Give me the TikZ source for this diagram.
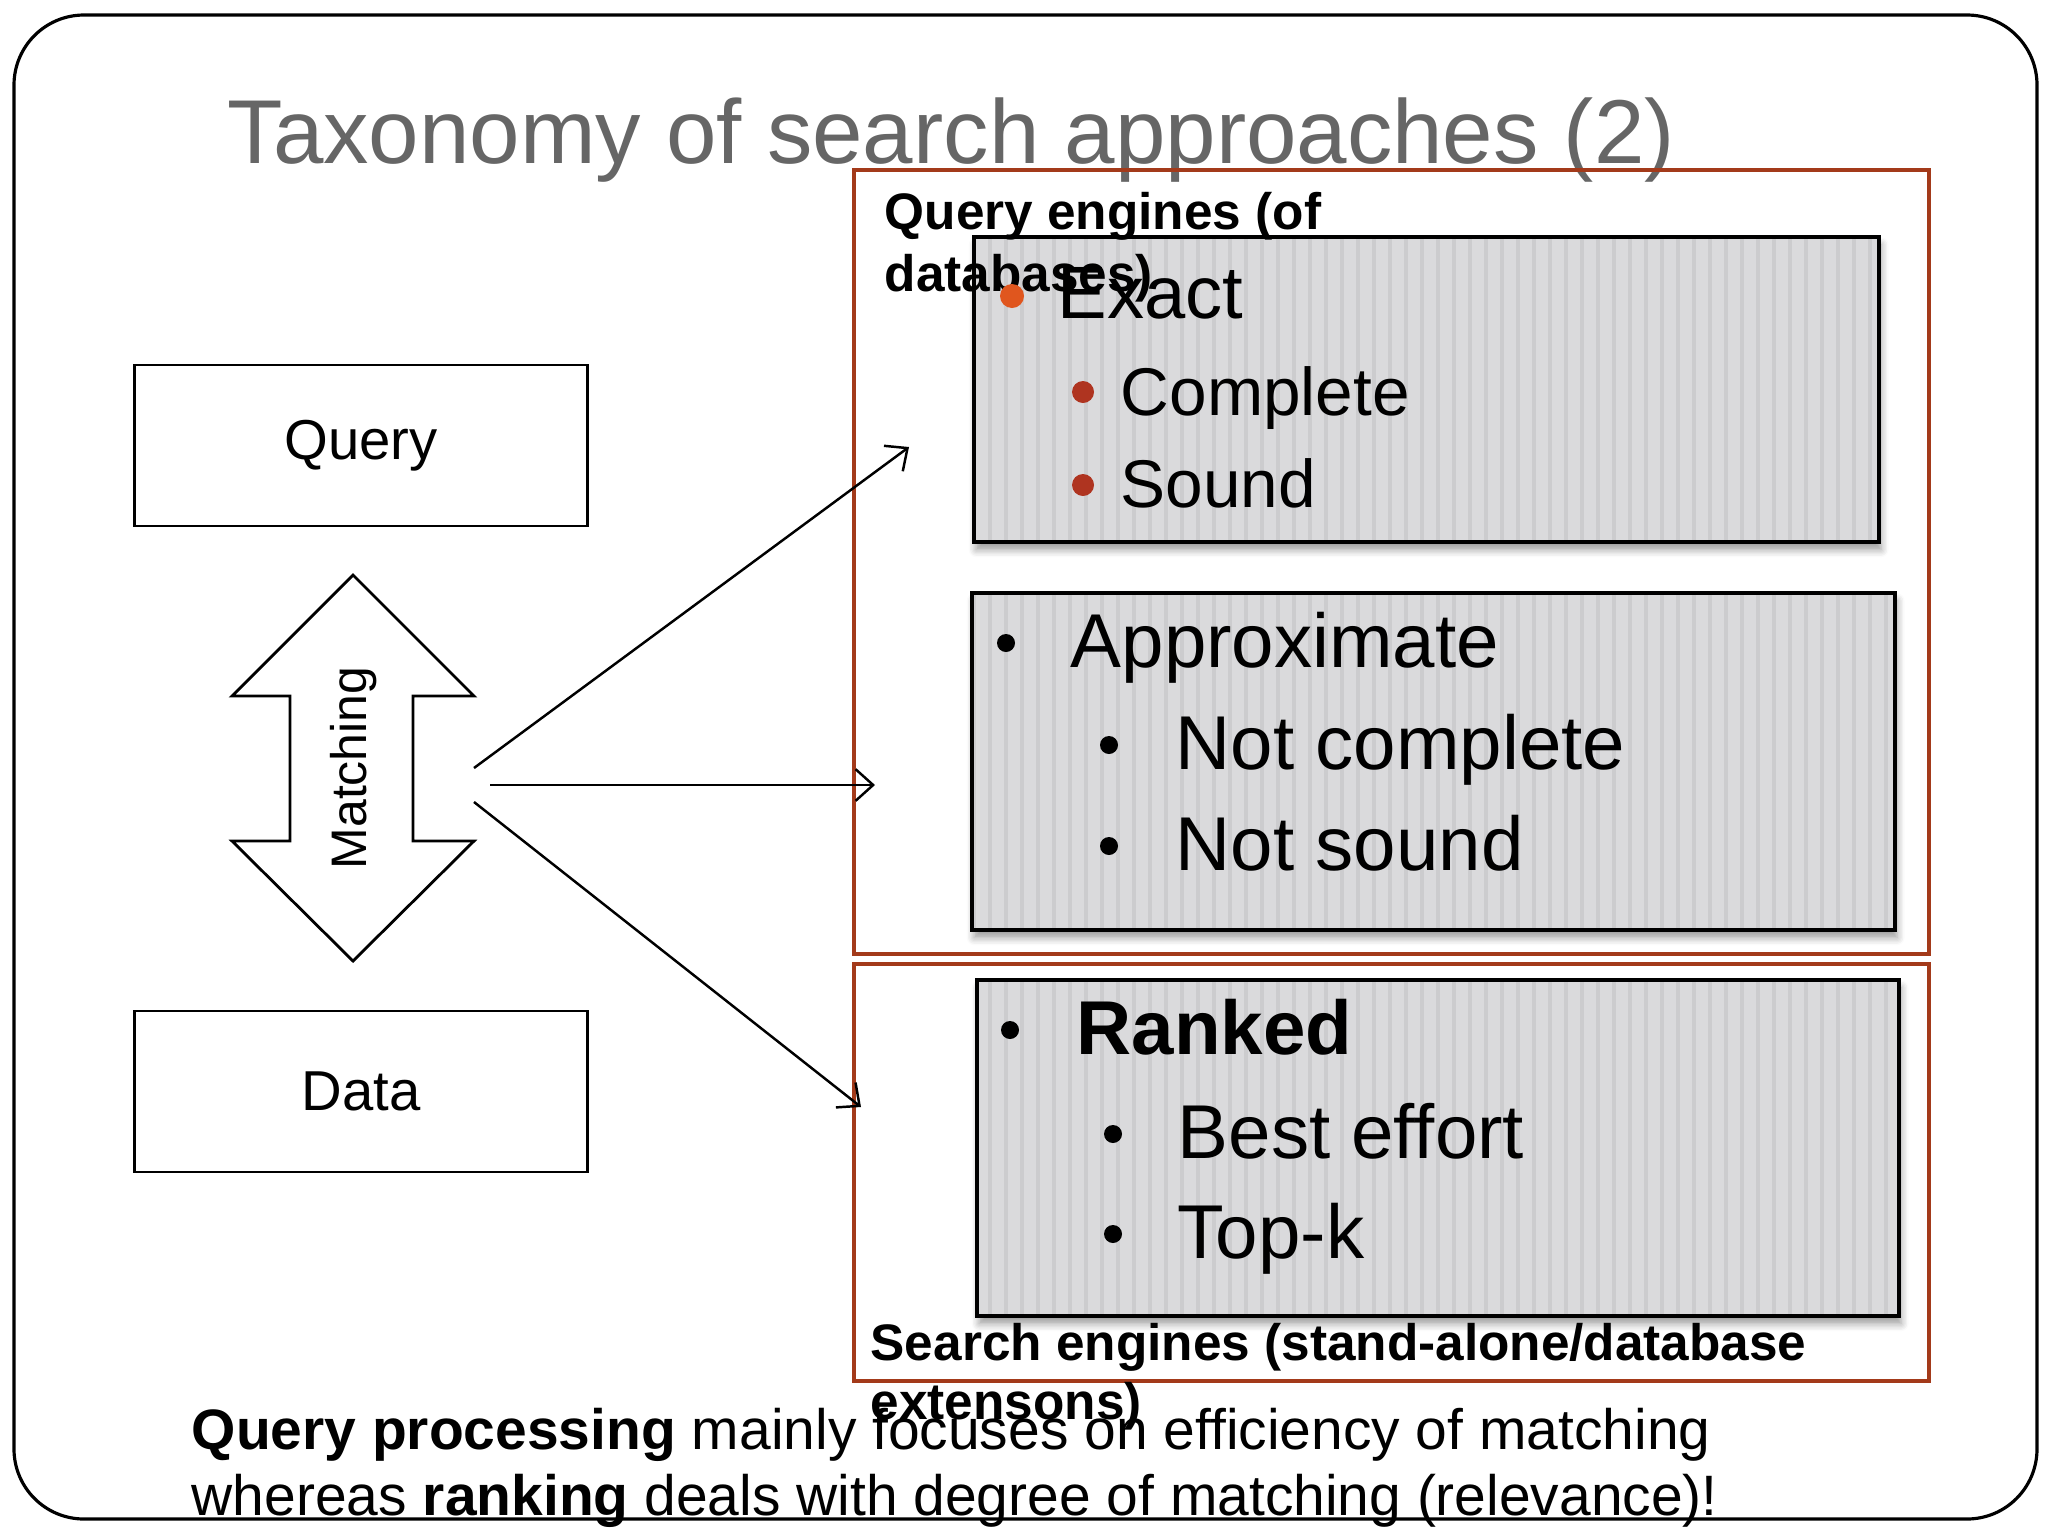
\documentclass[tikz,border=0pt]{standalone}
\usepackage{fontspec}
\setmainfont{Liberation Sans}
\usetikzlibrary{shadows.blur,arrows.meta}
\definecolor{titlegray}{HTML}{666666}
\definecolor{framered}{RGB}{163,58,26}
\definecolor{bulletorange}{RGB}{224,86,30}
\definecolor{bulletred}{RGB}{175,52,32}
\definecolor{panelgray}{RGB}{218,218,220}
\definecolor{stripegray}{RGB}{204,204,206}
\begin{document}
\begin{tikzpicture}[
          x=0.01cm, y=-0.01cm,
          link/.style={-{Straight Barb[length=5pt,width=9pt]},line width=0.7pt},
          plainbox/.style={draw,line width=0.8pt,minimum width=4.52cm,minimum height=1.61cm,
                           font=\fontsize{16}{19}\selectfont},
          group/.style={draw=framered,line width=1pt},
          panel/.style={fill=panelgray,blur shadow={shadow xshift=0.6pt,shadow yshift=-2.2pt,shadow blur steps=6}},
          paneledge/.style={draw=black,line width=1.1pt},
          stripe/.style={draw=stripegray,line width=1.1pt},
          lbl/.style={inner sep=0pt,anchor=base west},
          lvlone/.style={lbl,font=\fontsize{21.7}{26}\selectfont},
          lvltwo/.style={lbl,font=\fontsize{21.7}{26}\selectfont},
          groupname/.style={lbl,font=\fontsize{14.6}{17}\selectfont\bfseries},
          note/.style={lbl,font=\fontsize{16.2}{19}\selectfont},
        ]
        \useasboundingbox (0,0) rectangle (2048,1536);

        \draw[line width=0.9pt,rounded corners=0.7cm] (14,15) rectangle (2037,1519);

        \node[lbl,text=titlegray,font=\fontsize{25.8}{30}\selectfont] (title) at (227,163)
          {Taxonomy of search approaches (2)};

        \draw[group] (854,170) rectangle (1929,954);
        \draw[group] (854,964) rectangle (1929,1381);

        \foreach \xa/\ya/\xb/\yb in {974/237/1879/542, 972/593/1895/930, 977/980/1899/1316} {
          \fill[panel] (\xa,\ya) rectangle (\xb,\yb);
          \begin{scope}
            \clip (\xa,\ya) rectangle (\xb,\yb);
            \foreach \x in {958,974,...,1910}
              \draw[stripe] (\x,\ya) -- (\x,\yb);
          \end{scope}
          \draw[paneledge] (\xa,\ya) rectangle (\xb,\yb);
        }

        \node[plainbox] (query) at (361,445.5) {Query};
        \node[plainbox] (data) at (361,1091.5) {Data};

        \draw[line width=0.8pt,fill=white] (353,575) -- (474,696) -- (413,696) -- (413,841)
          -- (474,841) -- (353,961) -- (232,841) -- (290,841) -- (290,696) -- (232,696) -- cycle;
        \node[rotate=90,font=\fontsize{14.2}{17}\selectfont] (matching) at (354,768) {Matching};

        \coordinate (fanup) at (474,768);
        \coordinate (fanmid) at (490,785);
        \coordinate (fandown) at (474,802);
        \coordinate (toexact) at (909,447);
        \coordinate (toapprox) at (875,785);
        \coordinate (toranked) at (861,1107);
        \draw[link] (fanup) -- (toexact);
        \draw[link] (fanmid) -- (toapprox);
        \draw[link] (fandown) -- (toranked);

        \node[groupname] (qeline) at (884,229) {Query engines (of};
        \node[groupname] (qelinetwo) at (884,291) {databases)};

        \fill[bulletorange] (1012,296) circle (12);
        \node[lbl,font=\fontsize{21.1}{25}\selectfont] (exact) at (1057,318) {Exact};
        \fill[bulletred] (1083,392) circle (11);
        \node[lbl,font=\fontsize{19.2}{23}\selectfont] (complete) at (1120,415) {Complete};
        \fill[bulletred] (1083,485) circle (11);
        \node[lbl,font=\fontsize{19.2}{23}\selectfont] (sound) at (1120,507) {Sound};

        \fill (1006,643) circle (9);
        \node[lvlone] (approx) at (1070,667) {Approximate};
        \fill (1109,745) circle (9);
        \node[lvltwo] (notcomplete) at (1175,769) {Not complete};
        \fill (1109,846) circle (9);
        \node[lvltwo] (notsound) at (1175,870) {Not sound};

        \fill (1010,1030) circle (9);
        \node[lvlone,font=\fontsize{21.7}{26}\selectfont\bfseries] (ranked) at (1076,1054) {Ranked};
        \fill (1113,1134) circle (9);
        \node[lvltwo] (besteffort) at (1177,1158) {Best effort};
        \fill (1113,1234) circle (9);
        \node[lvltwo] (topk) at (1177,1258) {Top-k};

        \node[groupname] (seline) at (870,1360) {Search engines (stand-alone/database};
        \node[groupname] (selinetwo) at (870,1419) {extensons)};

        \node[note] (noteone) at (191,1449) {\textbf{Query processing} mainly focuses on efficiency of matching};
        \node[note] (notetwo) at (191,1515) {whereas \textbf{ranking} deals with degree of matching (relevance)!};

      \end{tikzpicture}
\end{document}
